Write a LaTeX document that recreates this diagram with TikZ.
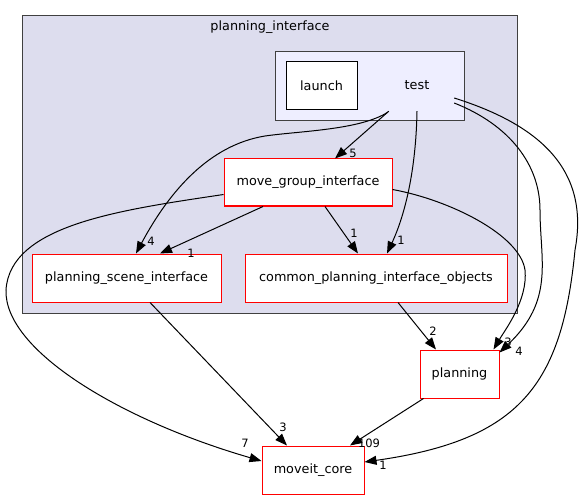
\documentclass[tikz,border=0pt]{standalone}
\usepackage{fontspec}
\setmainfont{DejaVu Sans}
\usetikzlibrary{arrows.meta,calc}
\definecolor{clusterfill}{HTML}{DDDDEE}
\definecolor{testfill}{HTML}{EEEEFF}
\definecolor{clusterline}{HTML}{404040}
\tikzset{
  dirbox/.style={draw=red, line width=1pt, fill=white, inner sep=0pt, font=\fontsize{12.8}{15}\selectfont},
  clusterbox/.style={draw=clusterline, line width=1pt, inner sep=0pt},
  plainbox/.style={draw=black, line width=1pt, fill=white, inner sep=0pt, font=\fontsize{12.8}{15}\selectfont},
  txt/.style={inner sep=0pt, font=\fontsize{12.8}{15}\selectfont},
  elabel/.style={inner sep=0pt, font=\fontsize{11.5}{13}\selectfont},
  dep/.style={draw=black, line width=1pt, -{Triangle[length=12pt,width=9pt]}},
}
\begin{document}
\begin{tikzpicture}[x=1pt,y=-1pt]
\useasboundingbox (0,0) rectangle (584,500);
% clusters
\node[clusterbox, fill=clusterfill, minimum width=495, minimum height=297] (pi) at (269.5,164.5) {};
\node[txt] (pilabel) at (270,27) {planning\_interface};
\node[clusterbox, fill=testfill, minimum width=189, minimum height=69] (testcl) at (369.5,86.5) {};
\node[plainbox, minimum width=71, minimum height=48] (launch) at (321.5,86) {launch};
\node[txt, minimum width=74, minimum height=52] (test) at (417,85) {test};
% directories
\node[dirbox, minimum width=168, minimum height=47] (mgi) at (308,182.5) {move\_group\_interface};
\node[dirbox, minimum width=189, minimum height=48] (psi) at (126.5,278) {planning\_scene\_interface};
\node[dirbox, minimum width=262, minimum height=48] (cpio) at (376,278) {common\_planning\_interface\_objects};
\node[dirbox, minimum width=79, minimum height=48] (planning) at (459.5,374) {planning};
\node[dirbox, minimum width=102, minimum height=48] (core) at (313,470) {moveit\_core};
% edge labels
\node[elabel] (l5) at (353,153) {5};
\node[elabel] (l4a) at (151,241) {4};
\node[elabel] (l1a) at (401,240) {1};
\node[elabel] (l1b) at (354,233) {1};
\node[elabel] (l1c) at (191,253) {1};
\node[elabel] (l3a) at (283,427) {3};
\node[elabel] (l7) at (245,443) {7};
\node[elabel] (l2) at (433,331) {2};
\node[elabel] (l3b) at (508,342) {3};
\node[elabel] (l4b) at (519,351) {4};
\node[elabel] (l109) at (369,443) {109};
\node[elabel] (l1d) at (383,465) {1};
% edges
\draw[dep] ($(test.south west)+(9,0)$) -- ($(mgi.north)+(27,0)$);
\draw[dep] ($(test.south west)+(8,1)$) .. controls (360,130) and (300,131) .. (265,136)
  .. controls (210,145) and (170,190) .. ($(psi.north)+(9.5,0)$);
\draw[dep] (test.south) .. controls (416,170) and (405,215) .. ($(cpio.north)+(11,0)$);
\draw[dep] ($(test.east)+(0,18)$) .. controls (510,125) and (540,165) .. (540,210)
  .. controls (540,260) and (555,300) .. ($(planning.north east)+(0,3)$);
\draw[dep] ($(test.east)+(0,13)$) .. controls (540,125) and (590,170) .. (575,250)
  .. controls (562,385) and (520,440) .. ($(core.east)+(0,-8)$);
\draw[dep] ($(mgi.south)+(-45,0)$) -- ($(psi.north)+(33.5,0)$);
\draw[dep] ($(mgi.south)+(17,0)$) -- ($(cpio.north)+(-18,0)$);
\draw[dep] ($(mgi.west)+(0,12)$) .. controls (120,210) and (10,225) .. (6,290)
  .. controls (4,350) and (120,420) .. ($(core.west)+(0,-9)$);
\draw[dep] ($(mgi.east)+(0,7)$) .. controls (450,200) and (520,235) .. (525,270)
  .. controls (528,300) and (505,330) .. ($(planning.north east)+(-6,0)$);
\draw[dep] ($(psi.south)+(23.5,0)$) -- ($(core.north)+(-26,0)$);
\draw[dep] ($(cpio.south)+(22,0)$) -- ($(planning.north)+(-23.5,0)$);
\draw[dep] ($(planning.south west)+(4,0)$) -- ($(core.north)+(37,0)$);
\end{tikzpicture}
\end{document}
